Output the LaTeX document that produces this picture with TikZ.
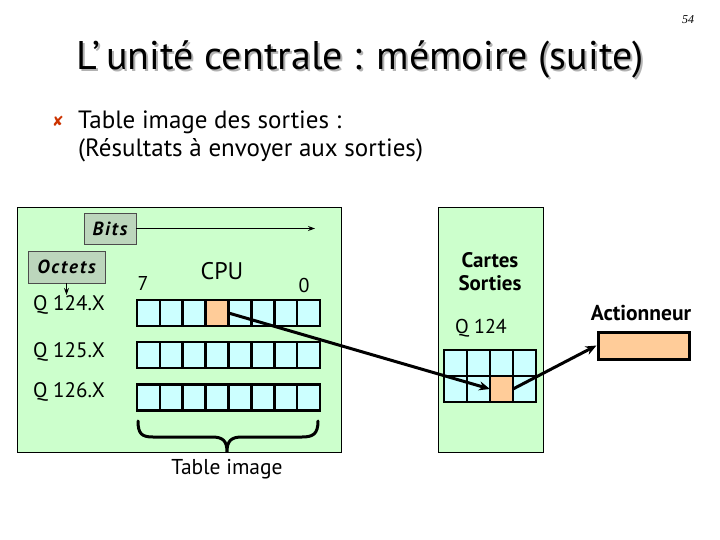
\documentclass[tikz,border=0pt]{standalone}
\usepackage{fontspec}
\setmainfont{PT Sans}
\newfontfamily\symfont{DejaVu Sans}
\newfontfamily\pagefont{Liberation Serif}
\newfontfamily\spacedfont[LetterSpace=10]{PT Sans}
\usetikzlibrary{arrows.meta}
\definecolor{panelgreen}{HTML}{CCFFCC}
\definecolor{cellblue}{HTML}{CCFFFF}
\definecolor{cellorange}{HTML}{FFCC99}
\definecolor{labelgray}{HTML}{BCD6BC}
\definecolor{bulletred}{HTML}{CC3300}
\newcommand{\fs}[1]{\fontsize{#1}{#1}\selectfont}
\begin{document}
\begin{tikzpicture}[x=1pt,y=-1pt,
  panel/.style={draw=black, line width=0.8pt, fill=panelgreen},
  cell/.style={draw=black, line width=2.6pt, fill=cellblue, minimum width=22.9pt, minimum height=26pt, inner sep=0pt, outer sep=0pt},
  ocell/.style={cell, fill=cellorange},
  tag/.style={draw=black!70, line width=0.8pt, fill=labelgray, font=\spacedfont\bfseries\itshape\fs{19}, inner sep=0pt},
  lbl/.style={font=\fs{21}, inner sep=0pt},
  blbl/.style={font=\bfseries\fs{21}, inner sep=0pt},
  thickarrow/.style={line width=3pt, -{Stealth[length=11pt,width=9pt]}},
  thinarrow/.style={line width=1pt, -{Stealth[length=7pt,width=5pt]}}
]
\useasboundingbox (0,0) rectangle (720,540);
\fill[white] (0,0) rectangle (720,540);

% page number and title
\node[font=\pagefont\itshape\fs{12}] (pnum) at (688,20) {54};
\node[text=black!30, font=\fs{40}] (titleshadow) at (362,62) {L’\,unité centrale : mémoire (suite)};
\node[font=\fs{40}] (title) at (360,60) {L’\,unité centrale : mémoire (suite)};

% bullet text
\node[text=bulletred, font=\symfont\bfseries\fs{14}] (bul) at (58,121) {✘};
\node[anchor=base west, font=\fs{25}, inner sep=0pt] (line1) at (78,129) {Table image des sorties :};
\node[anchor=base west, font=\fs{25}, inner sep=0pt] (line2) at (78,157) {(Résultats à envoyer aux sorties)};

% panels
\draw[panel] (17,207) rectangle (341,452);
\draw[panel] (438,207) rectangle (543,452);

% tags
\node[tag, minimum width=52pt, minimum height=31pt] (bits) at (110,228.5) {Bits};
\node[tag, minimum width=77pt, minimum height=32pt] (octets) at (66.5,267) {Octets};
\coordinate (bitsend) at (315,228.5);
\draw[thinarrow] (bits.east) -- (bitsend);
\coordinate (octend) at (66.5,295);
\draw[thinarrow] (octets.south) -- (octend);

% labels
\node[lbl, font=\fs{20}] (seven) at (143,283) {7};
\node[lbl, font=\fs{24}] (cpu) at (222,271) {CPU};
\node[lbl, font=\fs{20}] (zero) at (304,285) {0};
\node[lbl, anchor=west] (q124) at (33,305) {Q 124.X};
\node[lbl, anchor=west] (q125) at (33,352) {Q 125.X};
\node[lbl, anchor=west] (q126) at (33,392) {Q 126.X};

% memory rows
\foreach \r/\y in {1/313,2/355,3/397.5}{
  \foreach \i in {0,...,7}{
    \node[cell] (r\r c\i) at ({137+22.875*(\i+0.5)},\y) {};
  }
}
\node[ocell] (r1c3) at ({137+22.875*3.5},313) {};

% brace
\draw[line width=3pt, line cap=round]
  (138,421) .. controls (138,434) and (142,437) .. (153,437) -- (212,437)
  .. controls (223,437) and (227,441) .. (227,452)
  .. controls (227,441) and (231,437) .. (242,437) -- (302,437)
  .. controls (313,437) and (318,434) .. (318,421);
\node[lbl, font=\fs{21.5}] (tableimg) at (227,469) {Table image};

% card
\node[blbl, align=center, font=\bfseries\fs{21}\linespread{1.1}\selectfont] (cartes) at (490,272) {Cartes\\Sorties};
\node[lbl, font=\fs{20}] (q124b) at (481,328) {Q 124};
\foreach \rr/\y in {1/363,2/389}{
  \foreach \j in {0,...,3}{
    \node[cell, minimum width=23pt] (c\rr\j) at ({444+23*(\j+0.5)},\y) {};
  }
}
\node[ocell, minimum width=23pt] (c22) at ({444+23*2.5},389) {};

% actuator
\node[blbl, font=\bfseries\fs{21.5}] (actlbl) at (641,313) {Actionneur};
\node[draw=black, line width=3pt, fill=cellorange, minimum width=91pt, minimum height=27pt, inner sep=0pt] (act) at (643.5,345.5) {};

% arrows
\draw[thickarrow] (r1c3.east) -- (c22.west);
\draw[thickarrow] (c22.east) -- (act.west);
\end{tikzpicture}
\end{document}
